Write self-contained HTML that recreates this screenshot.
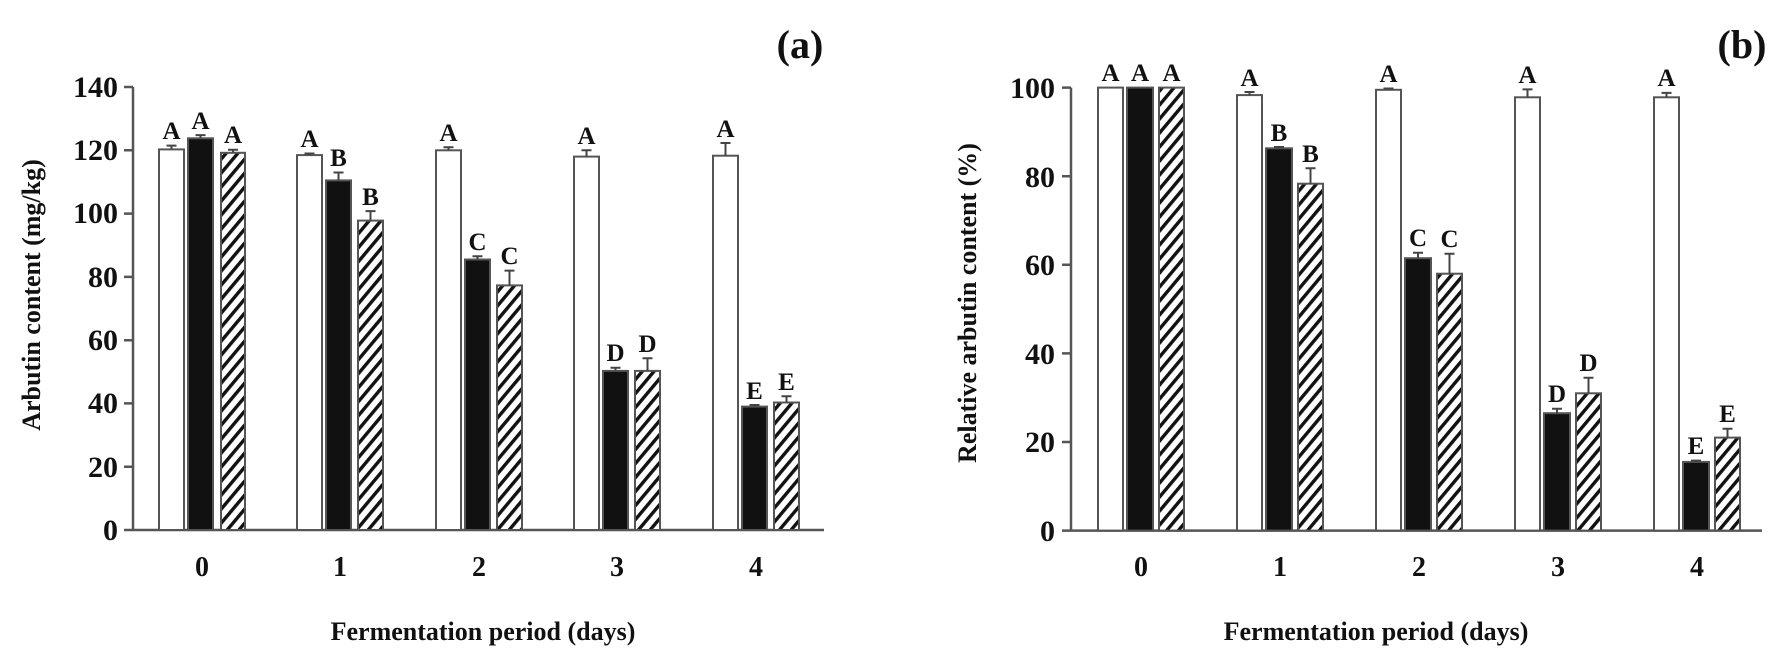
<!DOCTYPE html>
<html><head><meta charset="utf-8"><style>
html,body{margin:0;padding:0;background:#fff;}
svg{display:block;}
text{font-family:"Liberation Serif",serif;font-weight:bold;fill:#111;}
.t{font-size:30px;}
.l{font-size:25px;text-anchor:middle;}
.w{fill:#fff;stroke:#555;stroke-width:2;}
.b{fill:#111;stroke:#555;stroke-width:2;}
.h{fill:url(#hat);stroke:#555;stroke-width:2;}
.e{stroke:#444;stroke-width:2;fill:none;}
.ax{stroke:#555;stroke-width:2.5;fill:none;}
</style></head><body>
<svg width="1786" height="665" viewBox="0 0 1786 665" xmlns="http://www.w3.org/2000/svg">
<defs>
<pattern id="hat" width="9" height="9" patternUnits="userSpaceOnUse" patternTransform="rotate(40)">
<rect width="9" height="9" fill="#fff"/><rect x="0" y="0" width="3.4" height="9" fill="#111"/>
</pattern>
</defs>

<text x="800" y="58" style="font-size:40px" text-anchor="middle">(a)</text>
<path class="ax" d="M133 87 V530 M124 530 H824"/>
<path class="ax" d="M124 87H133M124 150.3H133M124 213.6H133M124 276.9H133M124 340.2H133M124 403.4H133M124 466.7H133"/>
<g class="t" text-anchor="end">
<text x="118" y="97">140</text><text x="118" y="160">120</text><text x="118" y="223">100</text>
<text x="118" y="287">80</text><text x="118" y="350">60</text><text x="118" y="413">40</text>
<text x="118" y="477">20</text><text x="118" y="540">0</text>
</g>
<g class="t" text-anchor="middle" style="font-size:28px">
<text x="202" y="576">0</text><text x="340" y="576">1</text><text x="479" y="576">2</text><text x="617" y="576">3</text><text x="756" y="576">4</text>
</g>
<text x="483" y="640" style="font-size:26px" text-anchor="middle">Fermentation period (days)</text>
<text transform="translate(40,295) rotate(-90)" style="font-size:26px" text-anchor="middle">Arbutin content (mg/kg)</text>

<rect class="w" x="159" y="149.4" width="25" height="380.6"/>
<rect class="b" x="188" y="138.3" width="25" height="391.7"/>
<rect class="h" x="221" y="152.8" width="24" height="377.2"/>
<rect class="w" x="297" y="155.1" width="25" height="374.9"/>
<rect class="b" x="326" y="180.4" width="25" height="349.6"/>
<rect class="h" x="358" y="220.6" width="25" height="309.4"/>
<rect class="w" x="436" y="150.3" width="25" height="379.7"/>
<rect class="b" x="465" y="259.5" width="25" height="270.5"/>
<rect class="h" x="497" y="285.4" width="25" height="244.6"/>
<rect class="w" x="574" y="156.6" width="25" height="373.4"/>
<rect class="b" x="603" y="370.9" width="25" height="159.1"/>
<rect class="h" x="635" y="370.9" width="25" height="159.1"/>
<rect class="w" x="713" y="155.7" width="25" height="374.3"/>
<rect class="b" x="742" y="406.6" width="25" height="123.4"/>
<rect class="h" x="774" y="402.5" width="25" height="127.5"/>

<path class="e" d="
M171.5 149.4V145.6M166.5 145.6H176.5
M200.5 138.3V135.1M195.5 135.1H205.5
M233 152.8V149.7M228 149.7H238
M309.5 155.1V153.5M304.5 153.5H314.5
M338.5 180.4V172.5M333.5 172.5H343.5
M370.5 220.6V211.1M365.5 211.1H375.5
M448.5 150.3V147.2M443.5 147.2H453.5
M477.5 259.5V256.3M472.5 256.3H482.5
M509.5 285.4V270.6M504.5 270.6H514.5
M586.5 156.6V150.3M581.5 150.3H591.5
M615.5 370.9V367.7M610.5 367.7H620.5
M647.5 370.9V358.2M642.5 358.2H652.5
M725.5 155.7V143M720.5 143H730.5
M754.5 406.6V405M749.5 405H759.5
M786.5 402.5V396.2M781.5 396.2H791.5"/>
<g class="l">
<text x="171.5" y="139">A</text><text x="200.5" y="129">A</text><text x="233" y="143">A</text>
<text x="309.5" y="147">A</text><text x="338.5" y="166">B</text><text x="370.5" y="205">B</text>
<text x="448.5" y="141">A</text><text x="477.5" y="250">C</text><text x="509.5" y="264">C</text>
<text x="586.5" y="144">A</text><text x="615.5" y="361">D</text><text x="647.5" y="352">D</text>
<text x="725.5" y="137">A</text><text x="754.5" y="399">E</text><text x="786.5" y="390">E</text>
</g>

<text x="1742" y="58" style="font-size:40px" text-anchor="middle">(b)</text>
<path class="ax" d="M1071 87.6 V530.6 M1062 530.6 H1762"/>
<path class="ax" d="M1062 87.6H1071M1062 176.2H1071M1062 264.8H1071M1062 353.4H1071M1062 442H1071"/>
<g class="t" text-anchor="end">
<text x="1055" y="98">100</text><text x="1055" y="187">80</text><text x="1055" y="275">60</text>
<text x="1055" y="364">40</text><text x="1055" y="452">20</text><text x="1055" y="541">0</text>
</g>
<g class="t" text-anchor="middle" style="font-size:28px">
<text x="1141" y="576">0</text><text x="1280" y="576">1</text><text x="1419" y="576">2</text><text x="1558" y="576">3</text><text x="1697" y="576">4</text>
</g>
<text x="1376" y="640" style="font-size:26px" text-anchor="middle">Fermentation period (days)</text>
<text transform="translate(976,303) rotate(-90)" style="font-size:26px" text-anchor="middle">Relative arbutin content (%)</text>

<rect class="w" x="1098" y="87.6" width="25" height="443"/>
<rect class="b" x="1127" y="87.6" width="26" height="443"/>
<rect class="h" x="1159" y="87.6" width="25" height="443"/>
<rect class="w" x="1237" y="95.1" width="25" height="435.5"/>
<rect class="b" x="1266" y="148.3" width="26" height="382.3"/>
<rect class="h" x="1298" y="183.7" width="25" height="346.9"/>
<rect class="w" x="1376" y="89.8" width="25" height="440.8"/>
<rect class="b" x="1405" y="258.2" width="26" height="272.4"/>
<rect class="h" x="1437" y="273.7" width="25" height="256.9"/>
<rect class="w" x="1515" y="97.3" width="25" height="433.3"/>
<rect class="b" x="1544" y="413.2" width="26" height="117.4"/>
<rect class="h" x="1576" y="393.3" width="25" height="137.3"/>
<rect class="w" x="1654" y="97.3" width="25" height="433.3"/>
<rect class="b" x="1683" y="461.9" width="26" height="68.7"/>
<rect class="h" x="1715" y="437.6" width="25" height="93"/>

<path class="e" d="
M1249.5 95.1V92M1244.5 92H1254.5
M1279 148.3V147M1274 147H1284
M1310.5 183.7V168.2M1305.5 168.2H1315.5
M1388.5 89.8V88.5M1383.5 88.5H1393.5
M1418 258.2V252.8M1413 252.8H1423
M1449.5 273.7V253.7M1444.5 253.7H1454.5
M1527.5 97.3V89.4M1522.5 89.4H1532.5
M1557 413.2V408.8M1552 408.8H1562
M1588.5 393.3V377.8M1583.5 377.8H1593.5
M1666.5 97.3V92.9M1661.5 92.9H1671.5
M1696 461.9V460.6M1691 460.6H1701
M1727.5 437.6V428.7M1722.5 428.7H1732.5"/>
<g class="l">
<text x="1110.5" y="81">A</text><text x="1140" y="81">A</text><text x="1171.5" y="81">A</text>
<text x="1249.5" y="86">A</text><text x="1279" y="141">B</text><text x="1310.5" y="162">B</text>
<text x="1388.5" y="82">A</text><text x="1418" y="246">C</text><text x="1449.5" y="247">C</text>
<text x="1527.5" y="83">A</text><text x="1557" y="402">D</text><text x="1588.5" y="371">D</text>
<text x="1666.5" y="86">A</text><text x="1696" y="454">E</text><text x="1727.5" y="422">E</text>
</g>
</svg>
</body></html>
